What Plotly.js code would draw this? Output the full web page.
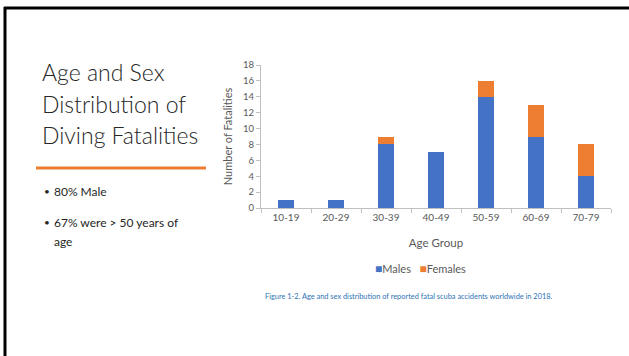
<!DOCTYPE html>
<html><head><meta charset="utf-8">
<script src="https://cdn.plot.ly/plotly-3.0.1.min.js"></script>
<style>html,body{margin:0;padding:0;background:#fff;}#chart{width:629px;height:356px;}</style>
</head><body><div id="chart"></div>
<script>
const ageGroups = ["10-19","20-29","30-39","40-49","50-59","60-69","70-79"];
const males = [1,1,8,7,14,9,4];
const females = [0,0,1,0,2,4,4];
const yTicks = [0,2,4,6,8,10,12,14,16,18];
const titleLines = ["Age and Sex", "Distribution of", "Diving Fatalities"];
const bullets = ["80% Male", "67% were > 50 years of", "age"];
const seriesNames = ["Males", "Females"];
const seriesColors = ["#4472c4", "#ed7d31"];
const caption = "Figure 1-2. Age and sex distribution of reported fatal scuba accidents worldwide in 2018.";

const W = 629, H = 356;
const px = x => x / W, py = y => 1 - y / H;

const traces = [
  {type:"bar", name:seriesNames[0], x:ageGroups, y:males, marker:{color:seriesColors[0]}},
  {type:"bar", name:seriesNames[1], x:ageGroups, y:females, marker:{color:seriesColors[1]}}
];
const grayText = "#595959";
const txtFont = "Lato, 'Open Sans', sans-serif";
const annotations = [];
titleLines.forEach((t, i) => annotations.push({
  xref:"paper", yref:"paper", x: px(40), y: py(72 + i * 31.5), xanchor:"left", yanchor:"middle",
  text: t, showarrow:false, font:{family: txtFont, size:23, weight:300, color:"#262626"}
}));
const bulletRows = [[bullets[0], 191, true], [bullets[1], 222, true], [bullets[2], 241, false]];
bulletRows.forEach(([t, y, dot]) => {
  if (dot) annotations.push({xref:"paper", yref:"paper", x: px(42), y: py(y), xanchor:"left", yanchor:"middle",
    text: "•", showarrow:false, font:{family: txtFont, size:10, color:"#262626"}});
  annotations.push({xref:"paper", yref:"paper", x: px(52), y: py(y), xanchor:"left", yanchor:"middle",
    text: t, showarrow:false, font:{family: txtFont, size:12, color:"#262626"}});
});
annotations.push({xref:"paper", yref:"paper", x: px(420), y: py(268), xanchor:"center", yanchor:"middle",
  text: seriesNames.map((n, i) => `<span style="color:${seriesColors[i]};font-size:12px">■</span>${n}`).join("&nbsp;&nbsp;&nbsp;"),
  showarrow:false, font:{family: txtFont, size:11, color:grayText}});
annotations.push({xref:"paper", yref:"paper", x: px(409), y: py(296), xanchor:"center", yanchor:"middle",
  text: caption, showarrow:false, font:{family: txtFont, size:7.4, color:"#2e74b5"}});

const layout = {
  width: W, height: H,
  margin: {l:0, r:0, t:0, b:0},
  paper_bgcolor: "#fff", plot_bgcolor: "#fff",
  barmode: "stack", bargap: 0.68,
  font: {family: txtFont, color: grayText},
  xaxis: {
    domain: [px(261), px(611)],
    showline: true, linecolor: "#bfbfbf", linewidth: 1,
    ticks: "outside", tickson: "boundaries", ticklen: 4, tickcolor: "#bfbfbf",
    tickfont: {size: 10, color: grayText},
    title: {text: "Age Group", font: {size: 11.5, color: grayText}, standoff: 16},
    showgrid: false, zeroline: false, fixedrange: true
  },
  yaxis: {
    domain: [py(208), py(65)],
    range: [0, 18], tickvals: yTicks,
    showline: true, linecolor: "#bfbfbf", linewidth: 1,
    ticks: "outside", ticklen: 4, tickcolor: "#bfbfbf",
    tickfont: {size: 9.5, color: grayText},
    title: {text: "Number of Fatalities", font: {size: 11, color: grayText}, standoff: 8},
    showgrid: false, zeroline: false, fixedrange: true
  },
  showlegend: false,
  shapes: [
    {type:"line", xref:"paper", yref:"paper", x0: px(4), x1: 1, y0: py(8), y1: py(8), line:{color:"#000", width:3}},
    {type:"line", xref:"paper", yref:"paper", x0: px(5), x1: px(5), y0: py(7), y1: 0, line:{color:"#000", width:3}},
    {type:"line", xref:"paper", yref:"paper", x0: px(36), x1: px(206), y0: py(168), y1: py(168), line:{color:"#ed7d31", width:3}}
  ],
  annotations: annotations
};
Plotly.newPlot("chart", traces, layout, {displayModeBar:false, staticPlot:true});
</script></body></html>
